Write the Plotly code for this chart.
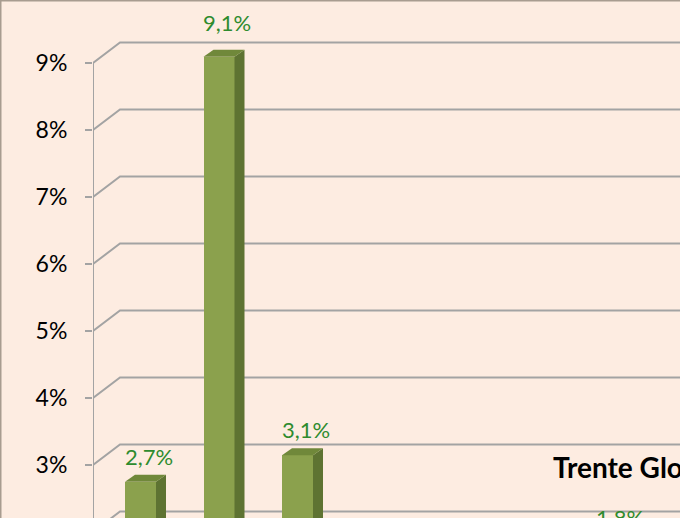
import plotly.graph_objects as go

# ---- data ----
categories = ["1", "2", "3", "4", "5", "6", "7"]
values = [2.7, 9.1, 3.1, None, None, None, 1.8]
tick_values = [3, 4, 5, 6, 7, 8, 9]
tick_labels = ["3%", "4%", "5%", "6%", "7%", "8%", "9%"]
gridline_values = [2, 3, 4, 5, 6, 7, 8, 9]
panel_title = "Trente Glorieuses"

# ---- styling / geometry (pixels converted to axis units) ----
BG = "#FDECE1"
FRONT = "#8BA14D"
SIDE = "#5E7332"
TOP = "#70883A"
LABEL_GREEN = "#2E8B2E"
GRID = "#A3A3A3"
FONT = "Lato"

W, H = 680, 518
ML = 93
px_per_cat = 78.5
first_center_px = 140.5
x0 = (ML - first_center_px) / px_per_cat
x1 = (W - first_center_px) / px_per_cat

# front-plane axis: pixel = 666 - 67*v
yr_front = [(666 - H) / 67, 666 / 67]
# bar plane axis: pixel = 661 - 66.4*v
yr_bar = [(661 - H) / 66.4, 661 / 66.4]
# label plane axis: pixel = 640.1 - 67.84*v
LAB_PX = 67.84
yr_lab = [(640.1 - H) / LAB_PX, 640.1 / LAB_PX]
LAB_LIFT = 0.5  # keeps annotation anchor inside range; undone by yshift
lab_mid = sum(yr_lab) / 2

bar_w = 31 / px_per_cat
dx_bar = 10 / px_per_cat
dy_bar = 7 / 66.4
dx_grid = 27 / px_per_cat
dy_grid = 20.5 / 67

fig = go.Figure()

# perspective gridlines (front diagonal + back horizontal)
for g in gridline_values:
    fig.add_trace(go.Scatter(
        x=[x0, x0 + dx_grid, x1 + 1], y=[g, g + dy_grid, g + dy_grid],
        mode="lines", line=dict(color=GRID, width=2),
        hoverinfo="skip", showlegend=False, yaxis="y"))
# front vertical axis line
fig.add_trace(go.Scatter(
    x=[x0, x0], y=[max(tick_values), yr_front[0] - 1], mode="lines",
    line=dict(color=GRID, width=2), hoverinfo="skip", showlegend=False, yaxis="y"))

idx = [i for i, v in enumerate(values) if v is not None]
vals = [values[i] for i in idx]

# front faces
fig.add_trace(go.Bar(
    x=idx, y=vals, width=bar_w, marker=dict(color=FRONT, line=dict(width=0)),
    yaxis="y2", showlegend=False, hoverinfo="skip"))

# side and top faces
for i, v in zip(idx, vals):
    xr = i + bar_w / 2
    xl = i - bar_w / 2
    fig.add_trace(go.Scatter(
        x=[xr, xr, xr + dx_bar, xr + dx_bar, xr],
        y=[0, v, v + dy_bar, dy_bar, 0],
        fill="toself", fillcolor=SIDE, mode="lines", line=dict(width=0, color=SIDE),
        yaxis="y2", showlegend=False, hoverinfo="skip"))
    fig.add_trace(go.Scatter(
        x=[xl, xr, xr + dx_bar, xl + dx_bar, xl],
        y=[v, v, v + dy_bar, v + dy_bar, v],
        fill="toself", fillcolor=TOP, mode="lines", line=dict(width=0, color=TOP),
        yaxis="y2", showlegend=False, hoverinfo="skip"))

annotations = []
for i, v in zip(idx, vals):
    lift = LAB_LIFT if v < lab_mid else -LAB_LIFT
    annotations.append(dict(
        x=i, y=v + lift, xref="x", yref="y3", xshift=8,
        yshift=-lift * LAB_PX,
        text=f"{v:.1f}".replace(".", ",") + "%", showarrow=False,
        font=dict(family=FONT, size=22, color=LABEL_GREEN),
        xanchor="center", yanchor="middle"))

annotations.append(dict(
    x=(551 - ML) / (W - ML), y=1 - 467 / H, xref="paper", yref="paper",
    text=f"<b>{panel_title}</b>", showarrow=False,
    font=dict(family=FONT, size=28, color="#000000"),
    xanchor="left", yanchor="middle"))

fig.update_layout(
    width=W, height=H,
    margin=dict(l=ML, r=0, t=0, b=0, pad=0),
    paper_bgcolor=BG, plot_bgcolor=BG,
    showlegend=False,
    bargap=0,
    xaxis=dict(range=[x0, x1], visible=False, fixedrange=True),
    yaxis=dict(range=yr_front, tickvals=tick_values, ticktext=tick_labels,
               showgrid=False, zeroline=False, showline=False,
               ticks="outside", ticklen=7, tickwidth=2, tickcolor=GRID,
               ticklabelstandoff=13,
               tickfont=dict(family=FONT, size=23, color="#000000")),
    yaxis2=dict(range=yr_bar, overlaying="y", visible=False),
    yaxis3=dict(range=yr_lab, overlaying="y", visible=False),
    annotations=annotations,
    shapes=[dict(type="rect", xref="paper", yref="paper",
                 x0=-ML / (W - ML) + 0.5 / (W - ML), x1=1.2, y0=-0.2, y1=1 - 0.5 / H,
                 line=dict(color="#A89C90", width=2), layer="above")],
)

fig.write_html(
    "out.html",
    config={"displayModeBar": False},
    post_script="document.body.style.margin='0';document.body.style.overflow='hidden';",
)
